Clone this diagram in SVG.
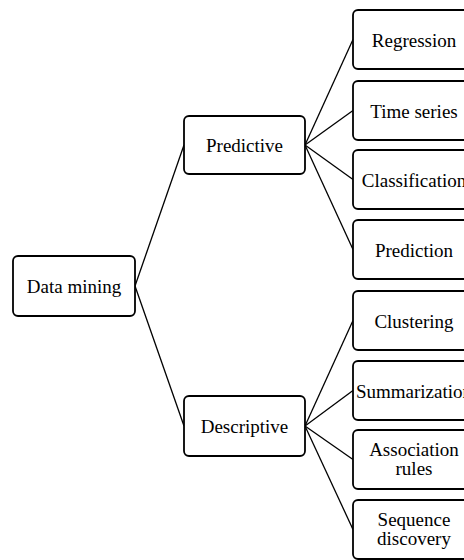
<svg xmlns="http://www.w3.org/2000/svg" width="464" height="560" viewBox="0 0 464 560">
<style>
.box{fill:#fff;stroke:#000;stroke-width:1.8}
.lbl{font-family:"Liberation Serif",serif;font-size:19px;fill:#000;text-anchor:middle}
.conn line{stroke:#000;stroke-width:1.3}
</style>
<rect width="464" height="560" fill="#fff"/>
<g class="conn">
<line x1="135" y1="286" x2="184" y2="145"/>
<line x1="135" y1="286" x2="184" y2="426"/>
<line x1="305" y1="145" x2="353" y2="39.5"/>
<line x1="305" y1="145" x2="353" y2="110.5"/>
<line x1="305" y1="145" x2="353" y2="179.5"/>
<line x1="305" y1="145" x2="353" y2="249.5"/>
<line x1="305" y1="426" x2="353" y2="320.5"/>
<line x1="305" y1="426" x2="353" y2="390.5"/>
<line x1="305" y1="426" x2="353" y2="459.5"/>
<line x1="305" y1="426" x2="353" y2="529.5"/>
</g>
<g id="data-mining"><rect class="box" x="13" y="256" width="122" height="60" rx="5"/><text class="lbl" x="74" y="293">Data mining</text></g>
<g id="predictive"><rect class="box" x="184" y="116" width="121" height="58" rx="5"/><text class="lbl" x="244.5" y="152">Predictive</text></g>
<g id="descriptive"><rect class="box" x="184" y="396" width="121" height="60" rx="5"/><text class="lbl" x="244.5" y="433">Descriptive</text></g>
<g id="regression"><rect class="box" x="353" y="10" width="122" height="59" rx="5"/><text class="lbl" x="414" y="46.5">Regression</text></g>
<g id="time-series"><rect class="box" x="353" y="81" width="122" height="59" rx="5"/><text class="lbl" x="414" y="117.5">Time series</text></g>
<g id="classification"><rect class="box" x="353" y="150" width="122" height="59" rx="5"/><text class="lbl" x="414" y="186.5">Classification</text></g>
<g id="prediction"><rect class="box" x="353" y="220" width="122" height="59" rx="5"/><text class="lbl" x="414" y="256.5">Prediction</text></g>
<g id="clustering"><rect class="box" x="353" y="291" width="122" height="59" rx="5"/><text class="lbl" x="414" y="327.5">Clustering</text></g>
<g id="summarization"><rect class="box" x="353" y="361" width="122" height="59" rx="5"/><text class="lbl" x="414" y="397.5">Summarization</text></g>
<g id="association-rules"><rect class="box" x="353" y="430" width="122" height="59" rx="5"/><text class="lbl" x="414" y="456">Association</text><text class="lbl" x="414" y="475">rules</text></g>
<g id="sequence-discovery"><rect class="box" x="353" y="500" width="122" height="59" rx="5"/><text class="lbl" x="414" y="526">Sequence</text><text class="lbl" x="414" y="545">discovery</text></g>
</svg>
